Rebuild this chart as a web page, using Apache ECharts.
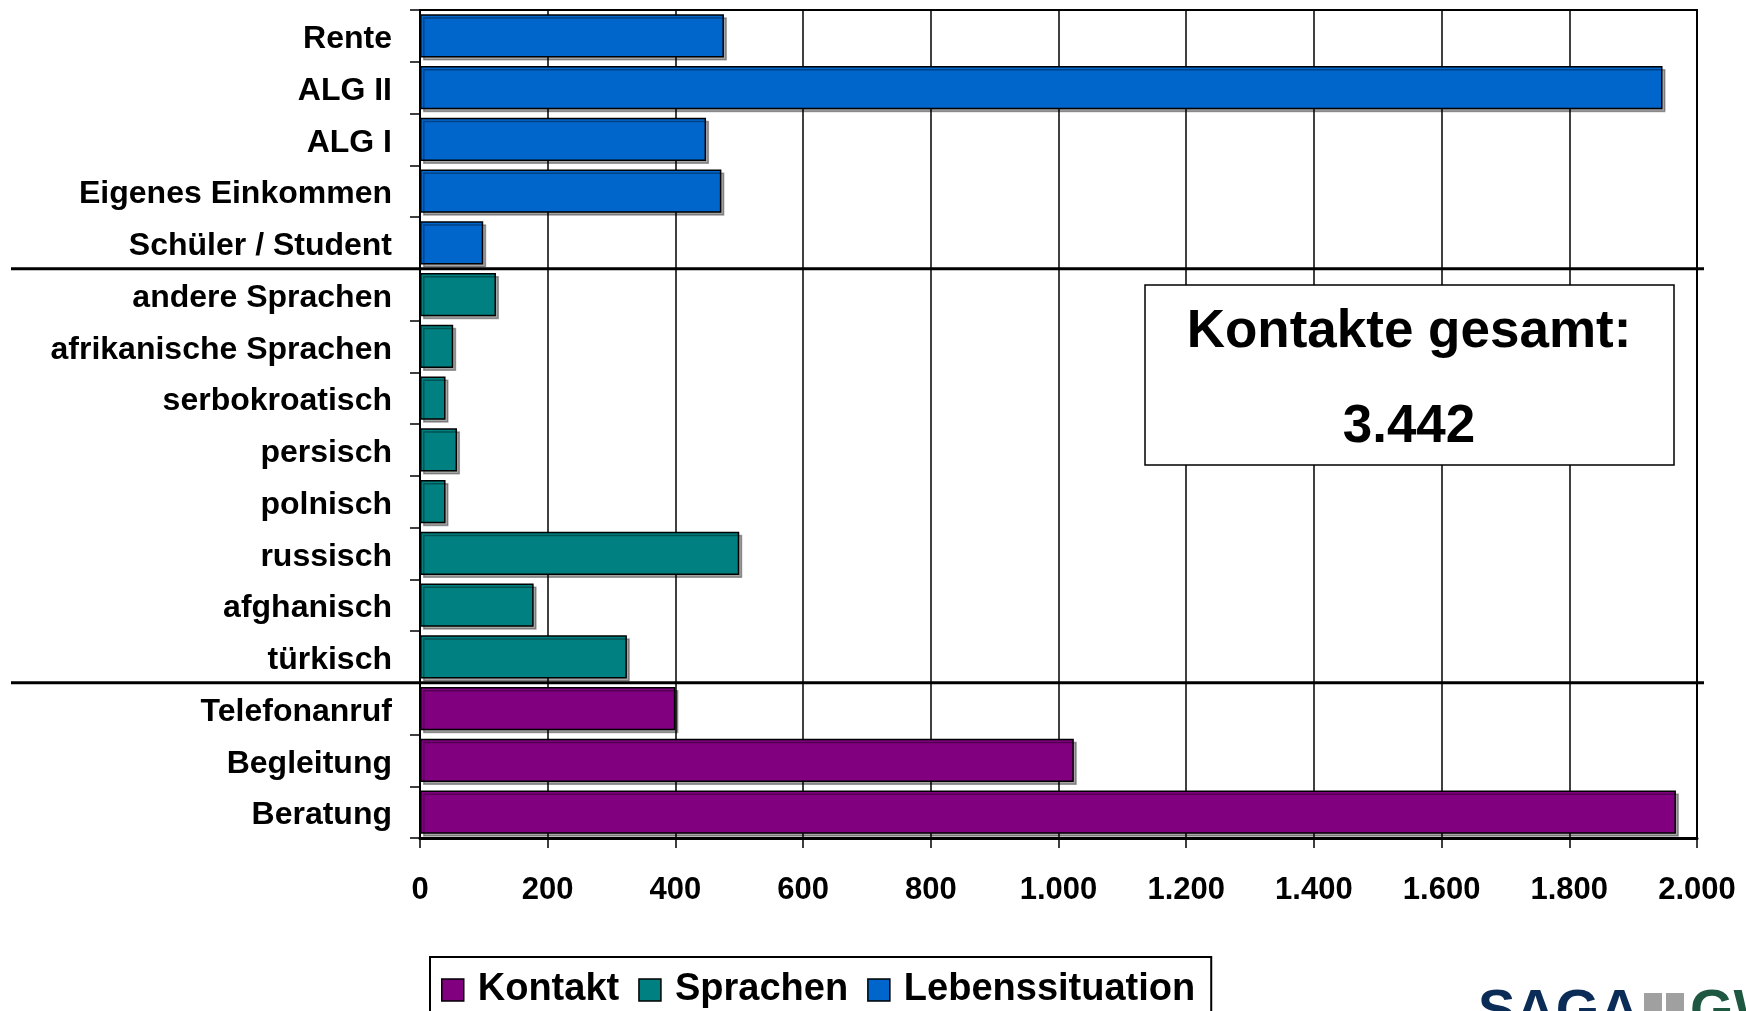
<!DOCTYPE html>
<html>
<head>
<meta charset="utf-8">
<script src="https://cdn.jsdelivr.net/npm/echarts@6/dist/echarts.min.js"></script>
<style>
  html, body { margin: 0; padding: 0; background: #fff; }
  #chart { width: 1746px; height: 1011px; }
</style>
</head>
<body>
<div id="chart"></div>
<script>
// Kategorien von oben nach unten
var categories = ['Rente', 'ALG II', 'ALG I', 'Eigenes Einkommen', 'Schüler / Student',
  'andere Sprachen', 'afrikanische Sprachen', 'serbokroatisch', 'persisch', 'polnisch',
  'russisch', 'afghanisch', 'türkisch',
  'Telefonanruf', 'Begleitung', 'Beratung'];

var lebenssituation = [476, 1946, 448, 472, 99, null, null, null, null, null, null, null, null, null, null, null];
var sprachen = [null, null, null, null, null, 119, 52, 40, 58, 40, 500, 178, 324, null, null, null];
var kontakt = [null, null, null, null, null, null, null, null, null, null, null, null, null, 400, 1024, 1967];

var xTicks = [0, 200, 400, 600, 800, 1000, 1200, 1400, 1600, 1800, 2000];
var gesamtText = ['Kontakte gesamt:', '3.442'];

var font = "'Liberation Sans', Arial, sans-serif";

var chart = echarts.init(document.getElementById('chart'));

function barStyle(color) {
  return {
    color: color,
    borderColor: '#000',
    borderWidth: 1.5,
    shadowColor: 'rgba(0,0,0,0.35)',
    shadowOffsetX: 3,
    shadowOffsetY: 3,
    shadowBlur: 0
  };
}

var option = {
  animation: false,
  backgroundColor: '#fff',
  grid: {
    left: 420, right: 49, top: 10, bottom: 173,
    show: true, borderColor: '#000', borderWidth: 2
  },
  legend: {
    data: ['Kontakt', 'Sprachen', 'Lebenssituation'],
    left: 430, top: 957,
    padding: [14, 16, 40, 11],
    borderColor: '#000', borderWidth: 2,
    backgroundColor: '#fff',
    icon: 'rect',
    itemWidth: 22, itemHeight: 22, itemGap: 19,
    itemStyle: { borderColor: '#000', borderWidth: 1.5 },
    textStyle: { fontFamily: font, fontWeight: 'bold', fontSize: 38, color: '#000', padding: [0, 0, 0, 9] }
  },
  xAxis: {
    type: 'value',
    min: 0, max: 2000, interval: 200,
    axisLine: { show: true, lineStyle: { color: '#000', width: 3 } },
    axisTick: { show: true, length: 10, lineStyle: { color: '#000', width: 1.5 } },
    splitLine: { show: true, lineStyle: { color: '#000', width: 1.5 } },
    axisLabel: {
      margin: 37,
      fontFamily: font, fontWeight: 'bold', fontSize: 31, color: '#000',
      formatter: function (v) {
        return xTicks.indexOf(v) >= 0 ? String(v).replace(/\B(?=(\d{3})+(?!\d))/g, '.') : '';
      }
    }
  },
  yAxis: {
    type: 'category',
    data: categories,
    inverse: true,
    axisLine: { show: true, lineStyle: { color: '#000', width: 2 } },
    axisTick: { show: true, length: 10, lineStyle: { color: '#000', width: 1.5 } },
    axisLabel: {
      margin: 28,
      formatter: function (v) { return '{a|' + v + '}'; },
      rich: {
        a: { padding: [7, 0, 0, 0], fontFamily: font, fontWeight: 'bold', fontSize: 32, color: '#000' }
      }
    }
  },
  series: [
    { name: 'Kontakt', type: 'bar', data: kontakt, barCategoryGap: '16%', barGap: '-100%', itemStyle: barStyle('#800080') },
    { name: 'Sprachen', type: 'bar', data: sprachen, barCategoryGap: '16%', barGap: '-100%', itemStyle: barStyle('#008080') },
    { name: 'Lebenssituation', type: 'bar', data: lebenssituation, barCategoryGap: '16%', barGap: '-100%', itemStyle: barStyle('#0066CC') }
  ]
};

chart.setOption(option);

// Trennlinien zwischen den Gruppen, aus den Achsenpositionen berechnet
function boundaryY(a, b) {
  var ya = chart.convertToPixel({ yAxisIndex: 0 }, categories[a]);
  var yb = chart.convertToPixel({ yAxisIndex: 0 }, categories[b]);
  return (ya + yb) / 2;
}
var y1 = boundaryY(4, 5);
var y2 = boundaryY(12, 13);

chart.setOption({
  graphic: [
    { type: 'line', z: 50, shape: { x1: 11, y1: y1, x2: 1704, y2: y1 }, style: { stroke: '#000', lineWidth: 3 } },
    { type: 'line', z: 50, shape: { x1: 11, y1: y2, x2: 1704, y2: y2 }, style: { stroke: '#000', lineWidth: 3 } },
    {
      type: 'rect', z: 50,
      shape: { x: 1145, y: 285, width: 529, height: 180 },
      style: { fill: '#fff', stroke: '#000', lineWidth: 1.5 }
    },
    {
      type: 'text', z: 51, x: 1409, y: 332,
      style: {
        text: gesamtText[0], fontFamily: font, fontWeight: 'bold', fontSize: 53, fill: '#000',
        align: 'center', verticalAlign: 'middle',
        textShadowColor: '#a0a0a0', textShadowOffsetX: 3, textShadowOffsetY: 3, textShadowBlur: 0
      }
    },
    {
      type: 'text', z: 51, x: 1409, y: 427,
      style: {
        text: gesamtText[1], fontFamily: font, fontWeight: 'bold', fontSize: 53, fill: '#000',
        align: 'center', verticalAlign: 'middle',
        textShadowColor: '#a0a0a0', textShadowOffsetX: 3, textShadowOffsetY: 3, textShadowBlur: 0
      }
    },
    // Logo unten rechts (angeschnitten)
    {
      type: 'text', z: 51, x: 1478, y: 1013,
      style: { text: 'SAGA', fontFamily: font, fontWeight: 'bold', fontSize: 56, fill: '#0b2c57', verticalAlign: 'middle' }
    },
    { type: 'rect', z: 51, shape: { x: 1644, y: 993, width: 18, height: 18 }, style: { fill: '#a0a0a0' } },
    { type: 'rect', z: 51, shape: { x: 1666, y: 993, width: 18, height: 18 }, style: { fill: '#a0a0a0' } },
    {
      type: 'text', z: 51, x: 1690, y: 1013,
      style: { text: 'GW', fontFamily: font, fontWeight: 'bold', fontSize: 56, fill: '#1f5840', verticalAlign: 'middle' }
    }
  ]
});
</script>
</body>
</html>
